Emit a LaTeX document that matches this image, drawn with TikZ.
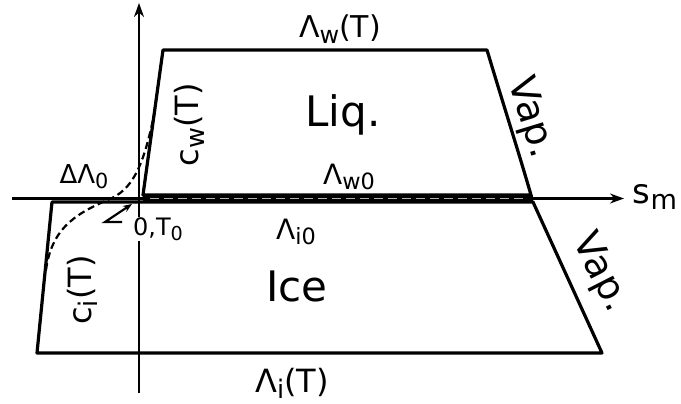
\documentclass[tikz,border=0pt]{standalone}
\usepackage{fontspec}
\setmainfont{DejaVu Sans}
\usetikzlibrary{arrows.meta}
\newcommand{\lsub}[1]{\raisebox{-0.35ex}{\scalebox{0.8}{#1}}}

\begin{document}
\begin{tikzpicture}[x=1pt, y=-1pt, >={Stealth[length=14pt,width=10pt]},
  phase/.style={line width=3.2pt, line join=round},
  axis/.style={line width=2.2pt},
  lbl/.style={inner sep=1pt, font=\fontsize{#1}{#1}\selectfont},
  lbl/.default=28]
\useasboundingbox (0,0) rectangle (681,404);
% corners of the two phase regions
\coordinate (wA) at (143,195);
\coordinate (wB) at (163,50);
\coordinate (wC) at (487,50);
\coordinate (wD) at (531,195);
\coordinate (iA) at (52,202);
\coordinate (iB) at (37,353);
\coordinate (iC) at (602,353);
\coordinate (iD) at (533,202);
% axes
\coordinate (yb) at (139,393);
\coordinate (yt) at (139,3);
\coordinate (xl) at (12,198.5);
\coordinate (xr) at (624,198.5);
\draw[axis,->] (yb) -- (yt);
\draw[axis,->] (xl) -- (xr);
% coexistence band between liquid and ice
\fill (wA) rectangle (iD);
\draw[line width=0.8pt, gray!60, dash pattern=on 9pt off 5pt] (150,198) -- (525,198);
% liquid and ice
\draw[phase] (wA) -- (wB) -- (wC) .. controls (505,110) and (518,150) .. (wD) -- cycle;
\draw[phase] (iA) -- (iB) -- (iC) -- (iD) -- cycle;
% chemical potential curve
\draw[line width=2.2pt, dash pattern=on 7pt off 4pt]
  (46,270) .. controls (52,225) and (80,212) .. (112,198)
  .. controls (135,187) and (145,160) .. (155,110);
% labels
\node (lw) [lbl=30] at (340,29) {Λ\lsub{w}(T)};
\node (liq) [lbl=42] at (343,115) {Liq.};
\node (vapw) [lbl=38, rotate=-73] at (530,118) {Vap.};
\node (cw) [lbl=32, rotate=90] at (189,125) {c\lsub{w}(T)};
\node (dl0) [lbl=26] at (84,177) {ΔΛ\lsub{0}};
\node (lw0) [lbl=28] at (349,177) {Λ\lsub{w0}};
\node (sm) [lbl=34] at (655,197) {s\lsub{m}};
\node (oT) [lbl=24, fill=white] at (158,229) {0,T\lsub{0}};
\node (li0) [lbl=28] at (296,232) {Λ\lsub{i0}};
\node (ice) [lbl=42] at (297,286) {Ice};
\node (ci) [lbl=32, rotate=90] at (82,290) {c\lsub{i}(T)};
\node (vapi) [lbl=38, rotate=-63] at (600,273) {Vap.};
\node (liT) [lbl=32] at (292,383) {Λ\lsub{i}(T)};
% pointer to the origin
\coordinate (ptip) at (132,204);
\draw[line width=2.2pt, ->, >={Stealth[length=9pt,width=7pt]}] (122,222) -- (105,222) -- (ptip);
\end{tikzpicture}
\end{document}
